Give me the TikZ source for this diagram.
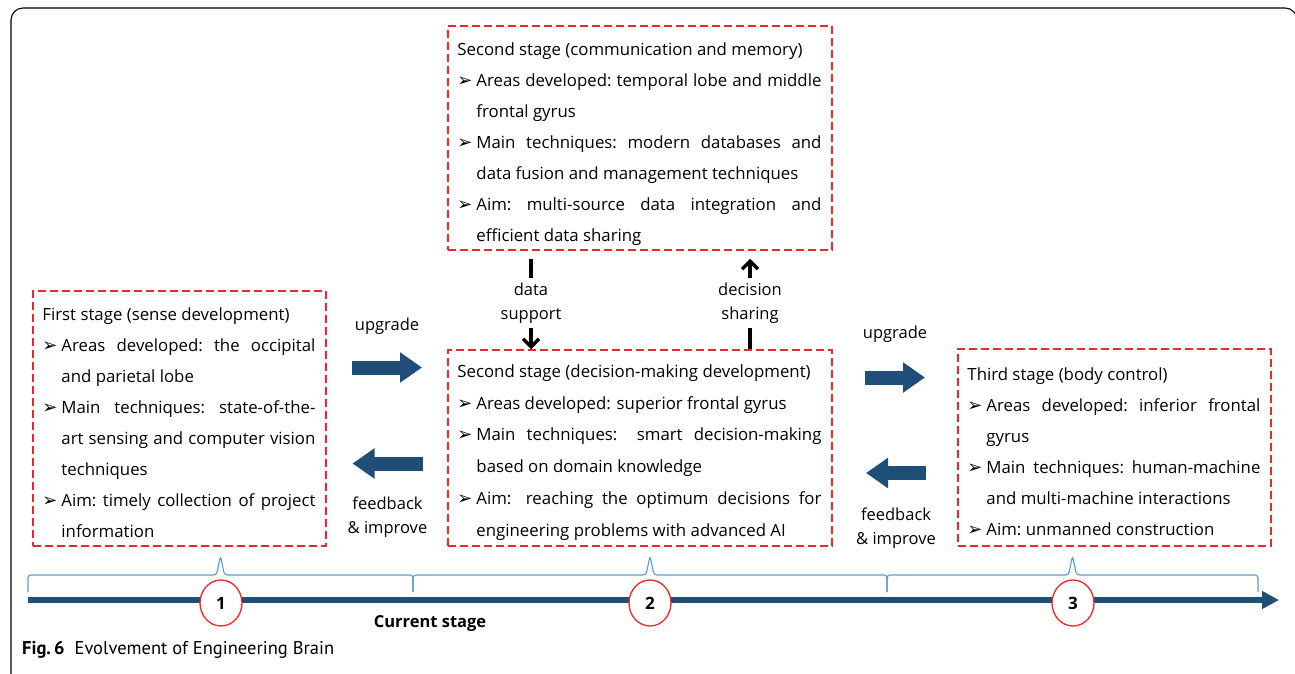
\documentclass[tikz,border=0pt]{standalone}
\usepackage{fontspec}
\setmainfont{Open Sans}
\newfontfamily\bulletfont{DejaVu Sans}
\newfontfamily\figcapfont{PT Sans}
\usetikzlibrary{positioning}
\usetikzlibrary{arrows.meta}
\usetikzlibrary{shapes.geometric}

\definecolor{stageblue}{RGB}{31,78,121}
\definecolor{boxred}{RGB}{236,40,44}
\definecolor{bracecol}{RGB}{91,155,213}

\newcommand{\boxfont}{\fontsize{16.8}{31}\selectfont\hyphenpenalty=10000\frenchspacing }
\newcommand{\annotfont}{\fontsize{16.5}{24}\selectfont}
\newcommand{\stagepoint}[1]{\par\noindent\hangindent=19pt\hangafter=1\makebox[19pt][l]{\bulletfont\fontsize{18}{18}\selectfont ➢}#1\par}

\begin{document}
\begin{tikzpicture}[x=1pt, y=1pt, font=\annotfont]
		\tikzstyle{stage}=[draw=boxred, dash pattern=on 8pt off 4pt, line width=1.5pt, inner sep=0pt]
		\tikzstyle{stagetext}=[anchor=north west, inner sep=0pt, align=justify, font=\boxfont]
		\tikzstyle{bigarrow}=[draw=stageblue, line width=14pt, -{Triangle[length=22pt,width=29pt]}]
		\tikzstyle{annot}=[align=center, inner sep=0pt, font=\annotfont]
		\tikzstyle{flow}=[draw=black, line width=3.5pt, -{Straight Barb[length=8pt,width=16pt]}]
		\tikzstyle{stagenum}=[ellipse, draw=boxred, line width=1.3pt, fill=white, minimum width=42pt, minimum height=46pt, inner sep=0pt, font=\bfseries\fontsize{17}{17}\selectfont]
		\tikzstyle{phase}=[draw=bracecol, line width=1.1pt, rounded corners=3pt]
		
		\useasboundingbox (0,0) rectangle (1295,-674);
		\draw[line width=1.1pt, rounded corners=12pt] (11,-690) -- (11,-8) -- (1297,-8) -- (1297,-690);
		
		% stage boxes
		\node[stage, minimum width=384pt, minimum height=224pt] (mem) at (640,-138) {};
		\node[stage, minimum width=293pt, minimum height=255pt] (first) at (179.5,-418.5) {};
		\node[stage, minimum width=384pt, minimum height=196pt] (dec) at (640,-448) {};
		\node[stage, minimum width=313pt, minimum height=197pt] (third) at (1114.5,-447.5) {};
		
		\node[stagetext, text width=364pt] (memtxt) at ([shift={(10pt,-17.5pt)}]mem.north west) {Second stage (communication and memory)
			\stagepoint{Areas developed: temporal lobe and middle\linebreak frontal gyrus}
			\stagepoint{Main techniques: modern databases and\linebreak data fusion and management techniques}
			\stagepoint{Aim: multi-source data integration and\linebreak efficient data sharing}};
		\node[stagetext, text width=273pt] (firsttxt) at ([shift={(10pt,-17pt)}]first.north west) {First stage (sense development)
			\stagepoint{Areas developed: the occipital\linebreak and parietal lobe}
			\stagepoint{Main techniques: state-of-the-\linebreak art sensing and computer vision\linebreak techniques}
			\stagepoint{Aim: timely collection of project\linebreak information}};
		\node[stagetext, text width=364pt, font=\fontsize{16.8}{31.8}\selectfont] (dectxt) at ([shift={(10pt,-15pt)}]dec.north west) {Second stage (decision-making development)
			\stagepoint{Areas developed: superior frontal gyrus}
			\stagepoint{Main techniques: smart decision-making\linebreak based on domain knowledge}
			\stagepoint{Aim: reaching the optimum decisions for\linebreak engineering problems with advanced AI}};
		\node[stagetext, text width=293pt] (thirdtxt) at ([shift={(10pt,-19.5pt)}]third.north west) {Third stage (body control)
			\stagepoint{Areas developed: inferior frontal\linebreak gyrus}
			\stagepoint{Main techniques: human-machine\linebreak and multi-machine interactions}
			\stagepoint{Aim: unmanned construction}};
		
		% upgrade / feedback arrows
		\coordinate (up1) at (387,-367.5);
		\coordinate (fb1) at (387.5,-463.5);
		\coordinate (up2) at (895,-377.5);
		\coordinate (fb2) at (896,-473);
		\draw[bigarrow] ([xshift=-35pt]up1) -- ([xshift=35pt]up1);
		\draw[bigarrow] ([xshift=35pt]fb1) -- ([xshift=-35pt]fb1);
		\draw[bigarrow] ([xshift=-30pt]up2) -- ([xshift=30pt]up2);
		\draw[bigarrow] ([xshift=30pt]fb2) -- ([xshift=-30pt]fb2);
		
		\node[annot, above=32.5pt of up1] (uplab1) {upgrade};
		\node[annot, below=33pt of fb1] (fblab1) {feedback\\\& improve};
		\node[annot, above=34.5pt of up2] (uplab2) {upgrade};
		\node[annot, below=34.5pt of fb2] (fblab2) {feedback\\\& improve};
		
		% links between the two second-stage boxes
		\draw[flow, shorten <=8pt] ([xshift=-109pt]mem.south) -- node[annot, fill=white, inner ysep=5pt, pos=0.53] (datalab) {data\\support} ([xshift=-109pt]dec.north);
		\draw[flow, shorten >=8pt] ([xshift=110pt]dec.north) -- node[annot, fill=white, inner ysep=5pt, pos=0.47] (declab) {decision\\sharing} ([xshift=110pt]mem.south);
		
		% time line
		\foreach \a/\m/\b in {28/220.5/413, 413/650/887, 887/1072.5/1258}
			\draw[phase] (\a,-592) -- (\a,-575) -- (\m-4,-575) -- (\m,-556) -- (\m+4,-575) -- (\b,-575) -- (\b,-592);
		\coordinate (tlstart) at (28,-600);
		\coordinate (tlend) at (1279,-600);
		\draw[draw=stageblue, line width=5.5pt, -{Triangle[length=17pt,width=17pt]}] (tlstart) -- (tlend);
		\node[stagenum] (n1) at (221,-603) {1};
		\node[stagenum] (n2) at (650,-603) {2};
		\node[stagenum] (n3) at (1073,-603) {3};
		\node[font=\bfseries\fontsize{16.5}{16.5}\selectfont] (cur) at (430,-624) {Current stage};
		
		\node[anchor=west, inner sep=0pt, font=\figcapfont\fontsize{18.5}{18.5}\selectfont] (cap) at (22,-650) {\textbf{Fig.\,6}\hspace{10pt}Evolvement of Engineering Brain};
	\end{tikzpicture}
\end{document}
